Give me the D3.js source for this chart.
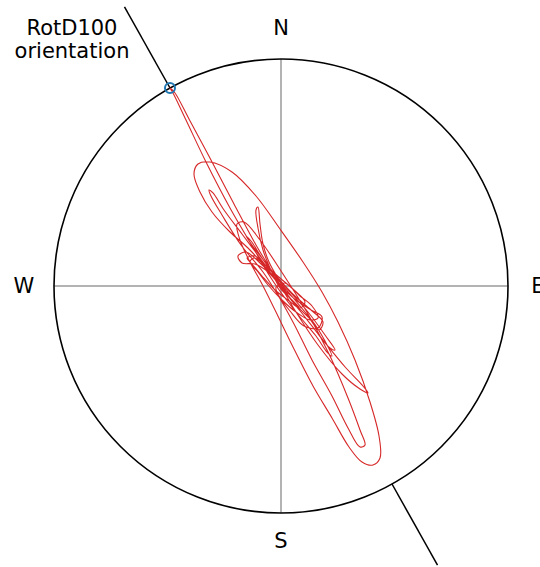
<!DOCTYPE html>
<html>
<head>
<meta charset="utf-8">
<script src="https://cdn.jsdelivr.net/npm/d3@7"></script>
<style>
  html, body { margin: 0; padding: 0; background: #fff; }
  svg { display: block; }
  text { font-family: "DejaVu Sans", sans-serif; font-size: 21px; fill: #000; }
</style>
</head>
<body>
<svg id="chart" width="540" height="567"></svg>
<script>
// Horizontal particle motion (East / North components), time ordered
const eastDisp = [
  0.0, -0.4, 0.3, 0.8, -0.1, -1.0, -1.5, -0.5, 0.9, 1.8, 1.1, -0.1,
  -1.1, -1.8, -2.3, -2.5, -2.3, -2.1, -1.8, -1.2, -0.2, 0.7,
  -0.5, -2.1, -3.5, -4.3, -3.9, -2.6, -1.3, 0.1, 1.5, 2.8, 3.8, 4.2, 3.0,
  1.4, -0.1, -1.6, -2.9, -3.5, -3.0, -1.9, -0.6, 0.9, 2.4, 3.5, 4.4, 5.1, 4.6, 3.5, 1.9, 0.4,
  -1.0, -3.0, -5.1, -7.5, -9.5, -10.8, -11.1, -10.6, -9.2, -7.0, -4.7, -2.5, -0.5, 1.5, 3.7, 6.1, 7.9, 8.7, 8.2, 6.5, 4.2, 2.0, 0.2,
  -1.5, -3.3, -5.1, -6.9, -8.1, -8.7, -8.3, -7.1, -4.9, -2.5, -0.1, 2.2, 4.1, 5.7, 7.4, 8.9, 9.8, 9.9, 9.2, 8.1, 6.8, 5.1, 3.2, 1.1, -0.6, -1.9,
  -3.1, -4.1, -4.4, -3.7, -2.1, 0.2, 2.7, 4.9, 6.7, 7.9, 8.4, 7.9, 6.7, 5.1, 3.1, 1.3, -0.2,
  -1.8, -4.0, -5.9, -7.0, -7.2, -6.8, -5.7, -3.9, -1.8, -0.1,
  0.4, 1.9, 3.1, 3.7, 2.9, 1.5, 0.1, -1.3, -2.3, -3.1, -2.7, -1.5, -0.1, 1.3, 2.4, 1.9,
  0.7, -0.6, -1.9, -2.9, -3.4, -2.6, -1.1, 0.9, 2.7, 4.4, 5.4, 4.9, 3.4, 1.7, 0.3,
  1.5, 3.0, 4.1, 3.7, 2.3, 0.9, -0.2, -0.5, 0.1
];
const northDisp = [
  0.0, 0.5, -0.5, -1.1, 0.1, 1.2, 1.8, 0.6, -1.2, -2.1, -1.4, -0.2,
  1.8, 3.6, 5.8, 7.6, 7.9, 6.2, 4.2, 2.4, 0.6, -0.9,
  0.7, 2.3, 3.4, 3.0, 2.3, 2.2, 1.4, -0.2, -1.9, -3.2, -4.4, -3.6, -2.4,
  -1.0, 0.6, 2.4, 4.1, 5.0, 4.5, 2.8, 1.0, -0.8, -2.6, -4.0, -5.5, -7.0, -6.6, -5.0, -3.1, -1.2,
  0.8, 4.2, 7.8, 12.4, 16.6, 19.3, 19.8, 19.3, 16.7, 12.6, 8.2, 4.1, 0.8, -2.6, -5.9, -8.8, -10.3, -10.7, -10.0, -8.2, -5.4, -2.6, -0.4,
  1.8, 3.8, 5.4, 7.4, 9.4, 11.2, 12.2, 12.4, 11.4, 9.0, 5.7, 2.4, -0.6, -3.6, -7.4, -11.6, -15.0, -17.2, -17.9, -17.6, -16.1, -13.2, -10.0, -5.9, -2.4, 0.2,
  2.4, 4.6, 6.2, 6.4, 4.6, 1.2, -2.8, -7.0, -11.2, -14.4, -15.9, -16.1, -14.2, -11.0, -7.4, -3.8, -1.1,
  1.4, 4.1, 7.1, 9.0, 9.6, 9.3, 7.6, 5.2, 2.4, 0.2,
  0.3, -1.0, -2.0, -3.2, -3.4, -2.6, -1.4, 0.1, 1.4, 2.4, 2.8, 2.0, 0.8, -0.4, -1.6, -2.2,
  -1.4, -0.4, 1.0, 2.2, 2.8, 3.0, 1.6, -0.6, -2.6, -4.9, -6.4, -6.2, -4.4, -2.2, -0.4,
  -1.4, -2.4, -3.1, -4.2, -4.0, -2.5, -1.0, -0.1, 0.1
];
const compassLabels = ["N", "E", "S", "W"];
const rotLabel = ["RotD100", "orientation"];

const cx = 281, cy = 286, R = 227;
const motion = eastDisp.map((e, i) => ({ e, n: northDisp[i] }));

// Peak horizontal amplitude sets the outer circle
const peak = d3.greatest(motion, d => Math.hypot(d.e, d.n));
const amp = Math.hypot(peak.e, peak.n);

const x = d3.scaleLinear().domain([-amp, amp]).range([cx - R, cx + R]);
const y = d3.scaleLinear().domain([-amp, amp]).range([cy + R, cy - R]);

const svg = d3.select("#chart");

// Axes cross
svg.append("line").attr("x1", x(-amp)).attr("x2", x(amp)).attr("y1", y(0)).attr("y2", y(0))
  .attr("stroke", "#b3b3b3").attr("stroke-width", 2);
svg.append("line").attr("x1", x(0)).attr("x2", x(0)).attr("y1", y(amp)).attr("y2", y(-amp))
  .attr("stroke", "#b3b3b3").attr("stroke-width", 2);

// Bounding circle
svg.append("circle").attr("cx", x(0)).attr("cy", y(0)).attr("r", x(amp) - x(0))
  .attr("fill", "none").attr("stroke", "#000").attr("stroke-width", 1.6);

// RotD100 orientation line, drawn outside the circle on both sides
const ux = peak.e / amp, uy = peak.n / amp;
const ext = 1.41;
[1, -1].forEach(s => {
  svg.append("line")
    .attr("x1", x(s * ux * amp)).attr("y1", y(s * uy * amp))
    .attr("x2", x(s * ux * amp * ext)).attr("y2", y(s * uy * amp * ext))
    .attr("stroke", "#000").attr("stroke-width", 1.5);
});

// Particle motion trace
const line = d3.line().x(d => x(d.e)).y(d => y(d.n)).curve(d3.curveCatmullRom.alpha(0.5));
svg.append("path").datum(motion).attr("d", line)
  .attr("fill", "none").attr("stroke", "#d62728").attr("stroke-width", 1.1)
  .attr("stroke-linejoin", "round");

// Peak marker
svg.append("circle").attr("cx", x(peak.e)).attr("cy", y(peak.n)).attr("r", 5)
  .attr("fill", "none").attr("stroke", "#1f77b4").attr("stroke-width", 2);

// Compass labels
const lp = [
  { t: compassLabels[0], x: x(0), y: y(amp) - 31 },
  { t: compassLabels[1], x: x(amp) + 30, y: y(0) },
  { t: compassLabels[2], x: x(0), y: y(-amp) + 28 },
  { t: compassLabels[3], x: x(-amp) - 30, y: y(0) }
];
svg.selectAll("text.compass").data(lp).join("text").attr("class", "compass")
  .attr("x", d => d.x).attr("y", d => d.y)
  .attr("text-anchor", "middle").attr("dominant-baseline", "central")
  .text(d => d.t);

// Orientation label
svg.append("text").attr("x", 72).attr("y", 28).attr("text-anchor", "middle")
  .attr("dominant-baseline", "central").text(rotLabel[0]);
svg.append("text").attr("x", 72).attr("y", 51).attr("text-anchor", "middle")
  .attr("dominant-baseline", "central").text(rotLabel[1]);
</script>
</body>
</html>
